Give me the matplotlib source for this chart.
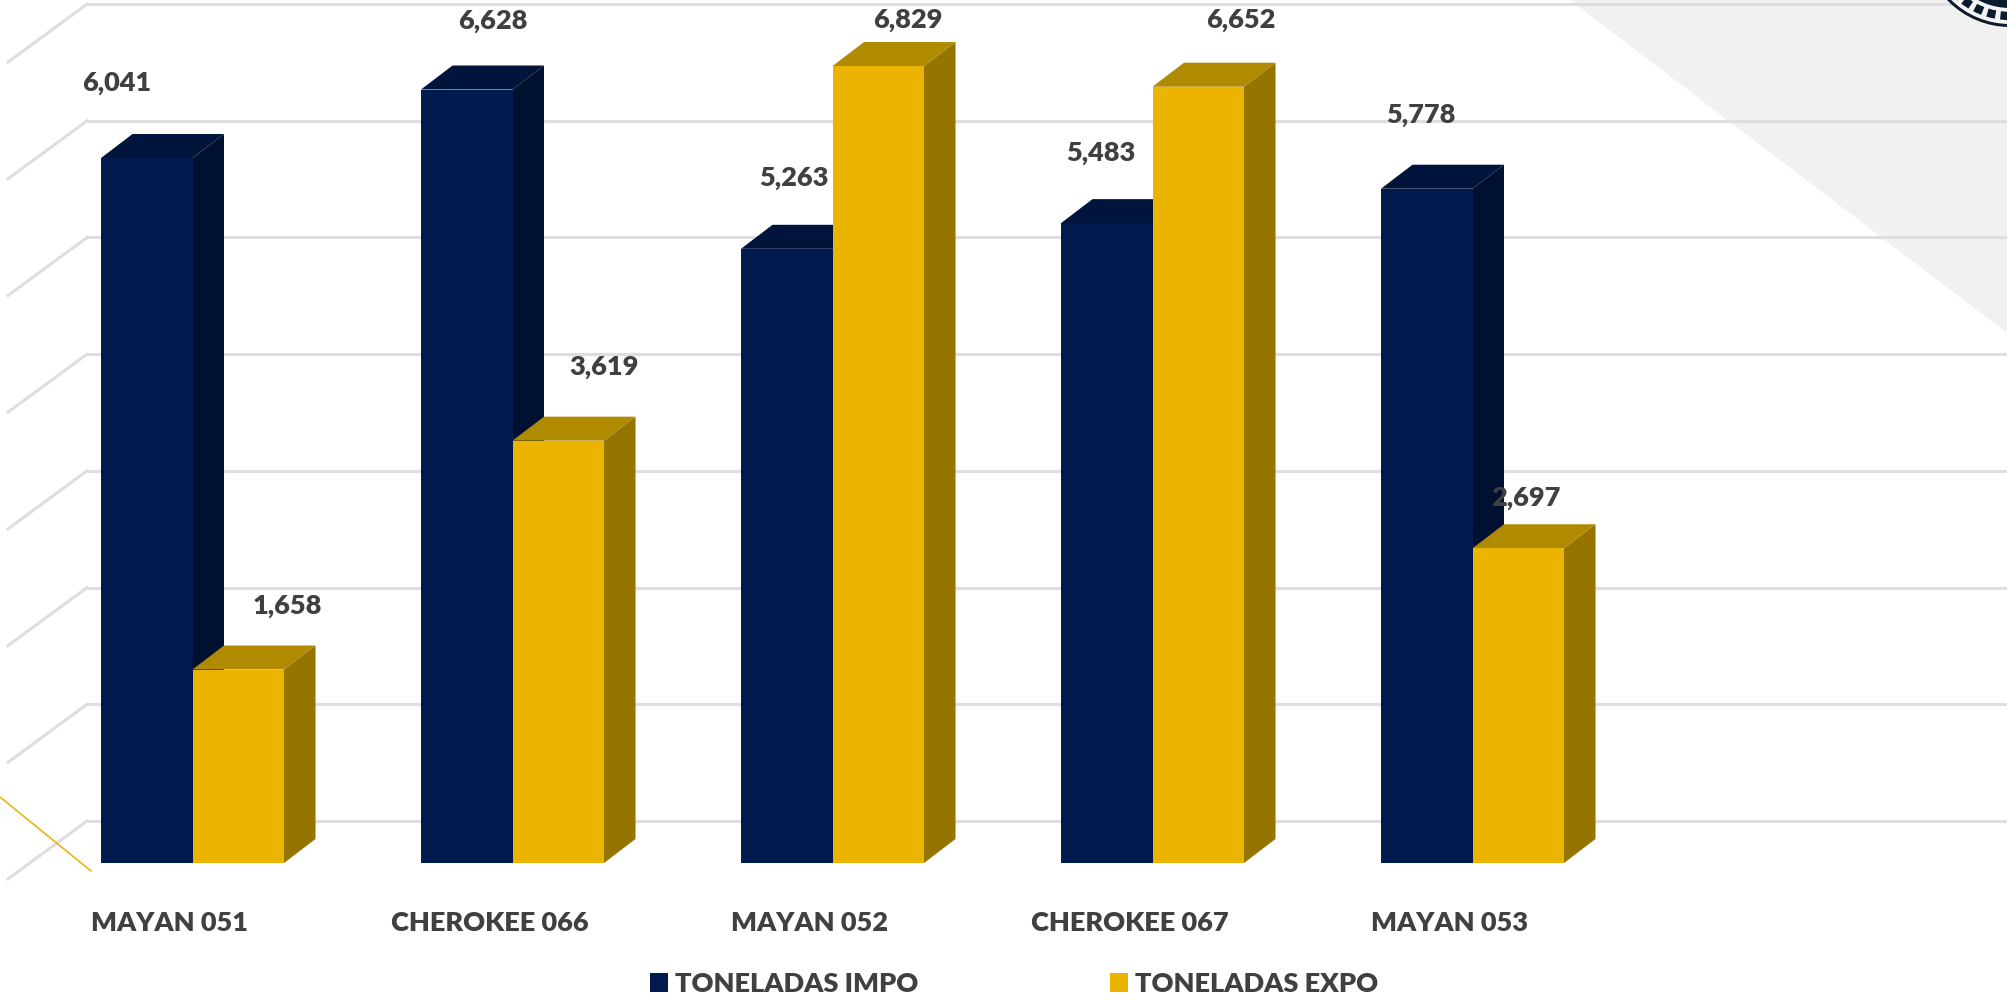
import matplotlib
matplotlib.use('Agg')
import matplotlib.pyplot as plt
from matplotlib.patches import Polygon, Circle
from matplotlib.transforms import Affine2D

buques = ['MAYAN 051', 'CHEROKEE 066', 'MAYAN 052', 'CHEROKEE 067', 'MAYAN 053']
impo = [6041, 6628, 5263, 5483, 5778]
expo = [1658, 3619, 6829, 6652, 2697]
grid_vals = [0, 1000, 2000, 3000, 4000, 5000, 6000, 7000]

W, H = 2007, 999
PX_Y = 0.1167      # px per tonelada
PX_X = 320.0       # px per group
X0 = 192.5         # px of group 0 (border between the two bars)
Y0 = 863.0         # px of the base of the bars
BAR_W = 91.5 / PX_X
DX, DY = 31.5 / PX_X, 24 / PX_Y   # 3d depth of the bars
GRID_SHIFT = 42 / PX_Y            # back wall sits above the base line

NAVY = ('#001a4d', '#00143c', '#001030')
GOLD = ('#ebb400', '#b08a00', '#967400')
TXT = '#404040'
FS = 19.5
WEIGHT = 'heavy'

plt.rcParams['font.family'] = ['Lato', 'DejaVu Sans']
fig = plt.figure(figsize=(W / 100, H / 100), dpi=100)
ax = fig.add_axes([0, 0, 1, 1])
ax.set_xlim(-X0 / PX_X, (W - X0) / PX_X)
ax.set_ylim((Y0 - H) / PX_Y, Y0 / PX_Y)
ax.axis('off')


def px(x, y):
    # figure pixels (from the top left) to data
    return (x - X0) / PX_X, (Y0 - y) / PX_Y


# grey triangle and round logo in the corner
ax.add_patch(Polygon([px(1570, 0), px(W, 0), px(W, 333)], fc='#f1f1f1', ec='none', zorder=0))
to_px = Affine2D().scale(1, -1).translate(0, H)
logo = '#0d1b2e'
ax.add_patch(Circle((2010, -60), 87, fc=logo, ec='none', zorder=1.5, transform=to_px))
ax.add_patch(Circle((2010, -60), 84, fc='#f4f4f4', ec='none', zorder=1.6, transform=to_px))
ax.add_patch(Circle((2010, -60), 76, fc='none', ec=logo, lw=6, ls=(0, (1, 0.6)), zorder=1.7, transform=to_px))
ax.add_patch(Circle((2010, -60), 68, fc=logo, ec='none', zorder=1.8, transform=to_px))

# back wall grid and the side wall lines
for v in grid_vals:
    gy = v + GRID_SHIFT
    ax.plot([-(X0 - 87) / PX_X, (W - X0) / PX_X], [gy, gy], color='#dedede', lw=2.2, zorder=1, solid_capstyle='butt')
    ax.plot([-(X0 - 87) / PX_X, -(X0 - 8) / PX_X], [gy, gy - 58 / PX_Y], color='#dedede', lw=2.2, zorder=1)

# thin gold line at the bottom left
x1, y1 = px(0, 797)
x2, y2 = px(91, 871)
ax.plot([x1, x2], [y1, y2], color='#e8b000', lw=1.1, zorder=2)

z = 3
for i in range(len(buques)):
    for vals, x, cols, lab in ((impo, i - BAR_W, NAVY, 'TONELADAS IMPO'), (expo, i, GOLD, 'TONELADAS EXPO')):
        v = vals[i]
        ax.add_patch(Polygon([(x + BAR_W, 0), (x + BAR_W + DX, DY), (x + BAR_W + DX, v + DY), (x + BAR_W, v)],
                             fc=cols[2], ec='none', zorder=z))
        ax.add_patch(Polygon([(x, v), (x + DX, v + DY), (x + BAR_W + DX, v + DY), (x + BAR_W, v)],
                             fc=cols[1], ec='none', zorder=z))
        ax.bar(x, v, BAR_W, align='edge', color=cols[0], zorder=z + 0.5,
               label=lab if i == 0 else None)
        z += 1

# labels were moved by hand in the original, so each one has its own offset
off_impo = [(-30, 75), (26, 69), (7, 71), (-6, 70), (-6, 74)]
off_expo = [(49, 64), (46, 74), (30, 46), (43, 67), (8, 50)]
for i in range(len(buques)):
    for vals, xc, off in ((impo, i - BAR_W / 2, off_impo), (expo, i + BAR_W / 2, off_expo)):
        ax.annotate(f'{vals[i]:,}', (xc, vals[i]), xytext=off[i], textcoords='offset pixels',
                    ha='center', va='center', fontsize=FS, fontweight=WEIGHT, color=TXT, zorder=50)
    ax.text(i - 23 / PX_X, -60 / PX_Y, buques[i], ha='center', va='center',
            fontsize=FS, fontweight=WEIGHT, color=TXT, zorder=50)

ax.legend(loc='center', bbox_to_anchor=(1014 / W, 1 - 984 / H), ncols=2, frameon=False,
          prop={'size': FS, 'weight': WEIGHT}, labelcolor=TXT, handlelength=0.67, handleheight=0.67,
          handletextpad=0.25, columnspacing=7.1)

fig.savefig('out.png', dpi=100)
plt.close()
